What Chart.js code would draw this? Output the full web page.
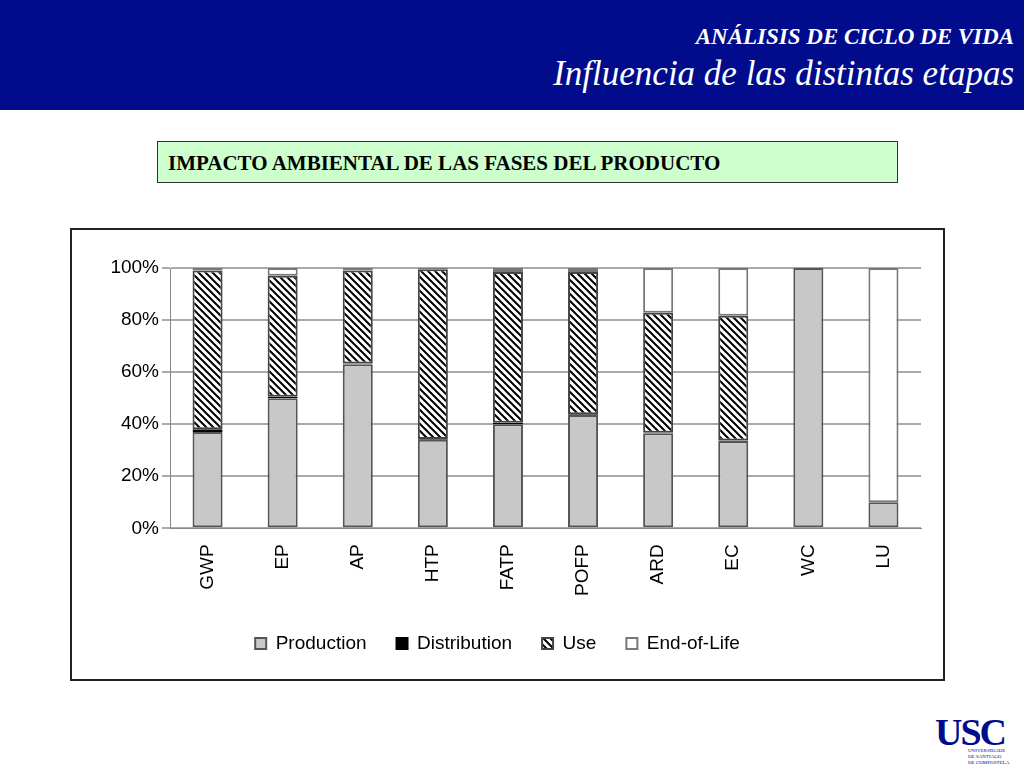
<!DOCTYPE html>
<html>
<head>
<meta charset="utf-8">
<script src="https://cdn.jsdelivr.net/npm/chart.js@4/dist/chart.umd.min.js"></script>
<style>
  body { margin: 0; width: 1024px; height: 768px; background: #fff; position: relative; overflow: hidden; font-family: "Liberation Serif", serif; }
  #header { position: absolute; left: 0; top: 0; width: 1024px; height: 110px; background: #000c8c; }
  #h1 { position: absolute; right: 10px; top: 24px; color: #fff; font-style: italic; font-weight: bold; font-size: 23px; }
  #h2 { position: absolute; right: 10px; top: 54px; color: #fff; font-style: italic; font-size: 35px; }
  #box { position: absolute; left: 157px; top: 141px; width: 741px; height: 42px; background: #ccffcc; border: 1px solid #333; box-sizing: border-box; font-weight: bold; font-size: 21px; line-height: 42px; padding-left: 10px; color: #000; }
  #frame { position: absolute; left: 70px; top: 228px; width: 875px; height: 453px; border: 2px solid #222; box-sizing: border-box; }
  #logo { position: absolute; left: 935px; top: 710px; width: 87px; height: 56px; }
  #logo .t { position: absolute; left: 0; top: 0; font-size: 38px; color: #000c8c; font-weight: bold; letter-spacing: -2px; }
  #logo .s { position: absolute; left: 33px; top: 38px; font-size: 5px; color: #000c8c; line-height: 6px; }
</style>
</head>
<body>
<div id="header"><div id="h1">ANÁLISIS DE CICLO DE VIDA</div><div id="h2">Influencia de las distintas etapas</div></div>
<div id="box">IMPACTO AMBIENTAL DE LAS FASES DEL PRODUCTO</div>
<div id="frame"><canvas id="myChart" width="871" height="449"></canvas></div>
<div id="logo"><div class="t">USC</div><div class="s">UNIVERSIDADE<br>DE SANTIAGO<br>DE COMPOSTELA</div></div>
<script>
var categories = ['GWP', 'EP', 'AP', 'HTP', 'FATP', 'POFP', 'ARD', 'EC', 'WC', 'LU'];
var production = [37, 50, 63, 34, 40, 43.5, 36.5, 33.5, 100, 10];
var distribution = [1, 0.5, 0.3, 0.3, 0.5, 0.3, 0.2, 0.2, 0, 0];
var use = [61, 46.5, 35.7, 65.2, 58, 54.7, 46.1, 48, 0, 0];
var endOfLife = [1, 3, 1, 0.5, 1.5, 1.5, 17.2, 18.3, 0, 90];
var yTicks = ['0%', '20%', '40%', '60%', '80%', '100%'];

function hatch() {
    var c = document.createElement('canvas');
    c.width = 7; c.height = 7;
    var g = c.getContext('2d');
    g.fillStyle = '#fff'; g.fillRect(0, 0, 7, 7);
    g.strokeStyle = '#000'; g.lineWidth = 2;
    g.beginPath();
    g.moveTo(-1, -1); g.lineTo(8, 8);
    g.moveTo(-8, -1); g.lineTo(1, 8);
    g.moveTo(6, -1); g.lineTo(15, 8);
    g.stroke();
    return g.createPattern(c, 'repeat');
}

var ctx = document.getElementById('myChart').getContext('2d');
var base = { borderWidth: 2, borderSkipped: false, barPercentage: 0.4, categoryPercentage: 1 };
var chart = new Chart(ctx, {
    type: 'bar',
    data: {
        labels: categories,
        datasets: [
            Object.assign({ label: 'Production', data: production, backgroundColor: '#c8c8c8', borderColor: '#555' }, base),
            Object.assign({ label: 'Distribution', data: distribution, backgroundColor: '#000', borderColor: '#000' }, base),
            Object.assign({ label: 'Use', data: use, backgroundColor: hatch(), borderColor: '#444' }, base),
            Object.assign({ label: 'End-of-Life', data: endOfLife, backgroundColor: '#fff', borderColor: '#777' }, base)
        ]
    },
    options: {
        responsive: false,
        animation: false,
        layout: { padding: { left: 2, right: 22, top: 38, bottom: 16 } },
        scales: {
            x: {
                stacked: true,
                grid: { display: false },
                border: { color: '#888' },
                ticks: { maxRotation: 90, minRotation: 90, padding: 8, color: '#000', font: { family: 'Liberation Sans', size: 19 } }
            },
            y: {
                stacked: true,
                min: 0, max: 100,
                afterFit: function (s) { s.width = 96; },
                ticks: { stepSize: 20, color: '#000', font: { family: 'Liberation Sans', size: 19 },
                    callback: function (v) { return yTicks[v / 20]; } },
                grid: { color: '#aaa', lineWidth: 2 },
                border: { color: '#888' }
            }
        },
        plugins: {
            legend: {
                position: 'bottom',
                labels: { boxWidth: 11, boxHeight: 11, padding: 30, color: '#000', font: { family: 'Liberation Sans', size: 19 } }
            },
            tooltip: { enabled: false }
        }
    }
});
</script>
</body>
</html>
